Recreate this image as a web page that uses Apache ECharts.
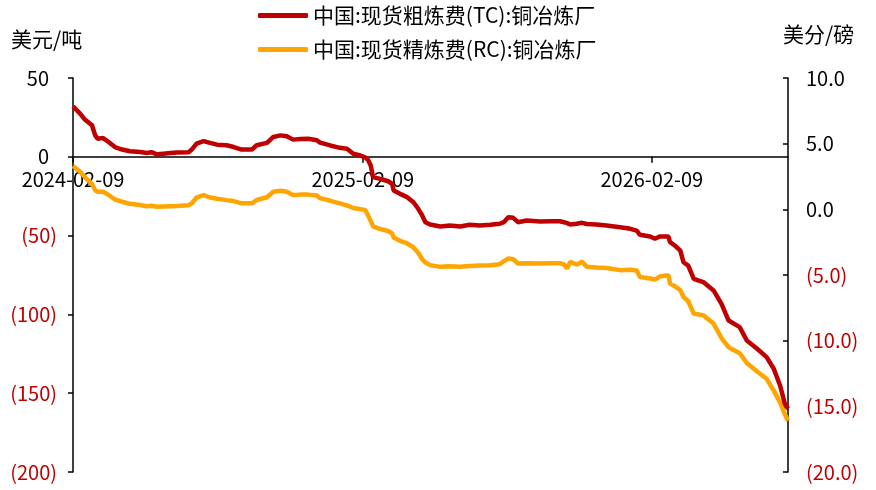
<!DOCTYPE html>
<html>
<head>
<meta charset="utf-8">
<script src="https://cdn.jsdelivr.net/npm/echarts@6/dist/echarts.min.js"></script>
<style>
html,body{margin:0;padding:0;background:#fff;}
#chart{width:876px;height:490px;}
</style>
</head>
<body>
<div id="chart"></div>
<script>
var seriesNames = ['中国:现货粗炼费(TC):铜冶炼厂', '中国:现货精炼费(RC):铜冶炼厂'];
var xTickLabels = ['2024-02-09', '2025-02-09', '2026-02-09'];
var startDate = '2024-02-09';
var endDate = '2026-07-31';

var dates = ['2024-02-09','2024-02-18','2024-02-24','2024-03-04','2024-03-08','2024-03-11','2024-03-18','2024-03-25',
'2024-04-02','2024-04-11','2024-04-21','2024-05-04','2024-05-12','2024-05-18','2024-05-25','2024-06-02','2024-06-11',
'2024-06-19','2024-07-04','2024-07-08','2024-07-14','2024-07-23','2024-07-31','2024-08-09','2024-08-21','2024-08-30',
'2024-09-09','2024-09-22','2024-09-28','2024-10-11','2024-10-19','2024-10-28','2024-11-05','2024-11-13','2024-11-22',
'2024-12-02','2024-12-13','2024-12-17','2024-12-30','2025-01-11','2025-01-20','2025-01-28','2025-02-06','2025-02-12',
'2025-02-16','2025-02-19','2025-02-22','2025-03-03','2025-03-13','2025-03-18','2025-03-20','2025-03-28','2025-04-06',
'2025-04-14','2025-04-20','2025-04-25','2025-04-29','2025-05-05','2025-05-18','2025-05-30','2025-06-12','2025-06-24',
'2025-07-07','2025-07-20','2025-08-01','2025-08-06','2025-08-12','2025-08-18','2025-08-24','2025-09-04','2025-09-21',
'2025-10-04','2025-10-16','2025-10-21','2025-10-25','2025-10-29','2025-11-06','2025-11-13','2025-11-19','2025-12-01',
'2025-12-14','2025-12-31','2026-01-13','2026-01-21','2026-01-25','2026-02-07','2026-02-13','2026-02-19','2026-03-02',
'2026-03-04','2026-03-10','2026-03-17','2026-03-21','2026-03-27','2026-04-03','2026-04-15','2026-04-28','2026-05-08',
'2026-05-17','2026-05-31','2026-06-09','2026-06-22','2026-07-04','2026-07-13','2026-07-21','2026-07-27','2026-07-31'];

var tcValues = [32,27.4,23.6,20.0,13.6,11.5,11.9,9.4,
6.2,4.6,3.5,3.0,2.4,2.9,1.6,2.0,2.4,
2.7,2.9,4.6,8.4,10.0,8.8,7.7,7.3,6.2,
4.6,4.6,7.3,8.8,12.6,13.6,13.0,10.9,11.3,
11.5,10.5,9.0,7.2,5.7,5.1,1.9,0.8,-0.3,
-2.3,-5.5,-12.9,-14.0,-15.5,-17.1,-21.4,-23.5,-25.6,
-28.8,-33.0,-37.2,-41.5,-43.0,-44.2,-43.6,-44.2,-43.1,
-43.6,-43.1,-42.5,-41.5,-38.3,-38.7,-41.5,-40.4,-41.0,
-40.9,-40.9,-41.5,-42.1,-43.0,-42.5,-41.9,-42.6,-43.0,
-43.6,-44.7,-45.7,-46.8,-49.5,-50.6,-52.0,-50.6,-50.6,
-54.2,-56.3,-59.5,-66.9,-69.0,-77.4,-79.5,-84.8,-93.3,
-103.9,-108.1,-116.6,-121.8,-127.1,-134.5,-145.1,-156.7,-159.9];

var rcValues = [3.3,2.87,2.44,1.93,1.45,1.34,1.34,1.09,
0.75,0.58,0.42,0.33,0.24,0.27,0.20,0.22,0.24,
0.25,0.31,0.46,0.9,1.09,0.9,0.8,0.7,0.63,
0.46,0.46,0.71,0.92,1.34,1.42,1.34,1.09,1.12,
1.12,1.05,0.85,0.65,0.45,0.30,0.10,0.0,-0.05,
-0.5,-0.9,-1.3,-1.5,-1.65,-1.83,-2.14,-2.4,-2.6,
-2.9,-3.3,-3.8,-4.05,-4.25,-4.38,-4.33,-4.38,-4.32,
-4.28,-4.25,-4.18,-3.95,-3.75,-3.8,-4.12,-4.1,-4.12,
-4.1,-4.1,-4.2,-4.5,-4.0,-4.2,-4.0,-4.38,-4.43,
-4.46,-4.63,-4.6,-4.65,-5.15,-5.27,-5.34,-5.12,-5.02,
-5.65,-5.85,-6.16,-6.67,-7.0,-7.94,-8.07,-8.7,-9.8,
-10.5,-10.95,-11.7,-12.35,-12.9,-13.8,-14.7,-15.6,-16.1];

var leftMin = -200, leftMax = 50, leftStep = 50;
var rightMin = -20, rightMax = 10, rightStep = 5;

function fmt(d){
  var m = d.getUTCMonth()+1, dd = d.getUTCDate();
  return d.getUTCFullYear() + '-' + (m<10?'0':'') + m + '-' + (dd<10?'0':'') + dd;
}
var categories = [];
(function(){
  var t = Date.parse(startDate + 'T00:00:00Z'), e = Date.parse(endDate + 'T00:00:00Z');
  for (; t <= e; t += 86400000) categories.push(fmt(new Date(t)));
})();

function pairs(vals){ return dates.map(function(d,i){ return [d, vals[i]]; }); }

var RED = '#C00000', ORANGE = '#FFA500';
var FONT = '"Noto Sans CJK SC", "Noto Sans", sans-serif';
var GRID = { left: 73, right: 88, top: 78, bottom: 18 };
var gridH = 490 - GRID.top - GRID.bottom;
// place the category axis on the left axis' zero line
var xOffset = -gridH * (0 - leftMin) / (leftMax - leftMin);

var chart = echarts.init(document.getElementById('chart'));
chart.setOption({
  animation: false,
  backgroundColor: '#fff',
  textStyle: { fontFamily: FONT },
  title: [
    { text: '美元/吨', left: 11, top: 29, textStyle: { fontSize: 21, fontWeight: 'normal', color: '#000', fontFamily: FONT }, padding: 0 },
    { text: '美分/磅', left: 783, top: 24, textStyle: { fontSize: 21, fontWeight: 'normal', color: '#000', fontFamily: FONT }, padding: 0 }
  ],
  legend: {
    orient: 'vertical',
    left: 258,
    top: 5,
    padding: 0,
    itemGap: 13,
    itemWidth: 50,
    itemHeight: 5,
    icon: 'roundRect',
    textStyle: { fontSize: 21, color: '#000', fontFamily: FONT },
    data: seriesNames
  },
  grid: { left: GRID.left, right: GRID.right, top: GRID.top, bottom: GRID.bottom, containLabel: false, outerBoundsMode: 'none' },
  xAxis: {
    type: 'category',
    data: categories,
    boundaryGap: false,
    position: 'bottom',
    offset: xOffset,
    axisLine: { onZero: false, lineStyle: { color: '#000', width: 1.5 } },
    axisTick: {
      show: true, length: 6, lineStyle: { color: '#000', width: 1.5 },
      interval: function(i, v){ return xTickLabels.indexOf(v) >= 0; }
    },
    axisLabel: {
      margin: 13, fontSize: 20, color: '#000', fontFamily: FONT,
      interval: function(i, v){ return xTickLabels.indexOf(v) >= 0; },
      hideOverlap: false
    },
    splitLine: { show: false }
  },
  yAxis: [
    {
      type: 'value', min: leftMin, max: leftMax, interval: leftStep, position: 'left',
      axisLine: { show: true, lineStyle: { color: '#000', width: 1.5 } },
      axisTick: { show: true, inside: false, length: 5, lineStyle: { color: '#000', width: 1.5 } },
      axisLabel: {
        margin: 16, fontSize: 20, fontFamily: FONT,
        formatter: function(v){ return v < 0 ? '{n|(' + (-v) + ')}' : '{p|' + v + '}'; },
        rich: {
          n: { color: RED, fontSize: 20, fontFamily: FONT },
          p: { color: '#000', fontSize: 20, fontFamily: FONT, padding: [0, 8, 0, 0] }
        }
      },
      splitLine: { show: false }
    },
    {
      type: 'value', min: rightMin, max: rightMax, interval: rightStep, position: 'right',
      axisLine: { show: true, lineStyle: { color: '#000', width: 1.5 } },
      axisTick: { show: true, inside: true, length: 5, lineStyle: { color: '#000', width: 1.5 } },
      axisLabel: {
        margin: 18, fontSize: 20, fontFamily: FONT,
        formatter: function(v){ return v < 0 ? '{n|(' + (-v).toFixed(1) + ')}' : '{p|' + v.toFixed(1) + '}'; },
        rich: {
          n: { color: RED, fontSize: 20, fontFamily: FONT },
          p: { color: '#000', fontSize: 20, fontFamily: FONT }
        }
      },
      splitLine: { show: false }
    }
  ],
  series: [
    {
      name: seriesNames[0], type: 'line', yAxisIndex: 0, data: pairs(tcValues),
      showSymbol: false, symbol: 'none', color: RED,
      lineStyle: { color: RED, width: 4.5 }, z: 3
    },
    {
      name: seriesNames[1], type: 'line', yAxisIndex: 1, data: pairs(rcValues),
      showSymbol: false, symbol: 'none', color: ORANGE,
      lineStyle: { color: ORANGE, width: 4.5 }, z: 2
    }
  ]
});
</script>
</body>
</html>
